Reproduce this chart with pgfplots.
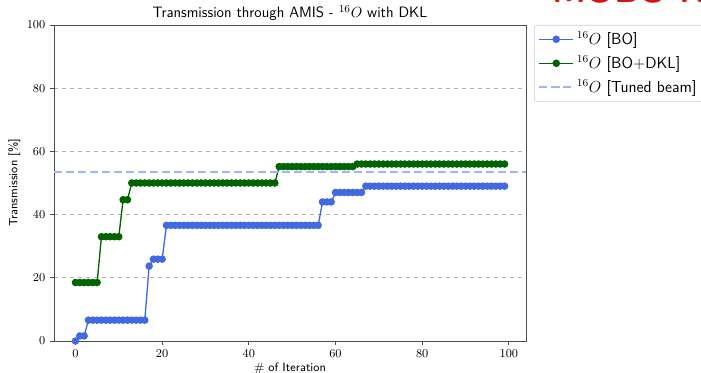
\documentclass[border=0pt]{standalone}
\usepackage{pgfplots}
\pgfplotsset{compat=1.18}
\definecolor{boblue}{RGB}{65,105,225}
\definecolor{bogreen}{RGB}{0,100,0}
\definecolor{tuned}{RGB}{160,180,245}
\definecolor{redtitle}{RGB}{210,20,20}
\begin{document}
\begin{tikzpicture}
\begin{axis}[
  name=ax,
  scale only axis,
  width=354pt, height=237pt,
  xmin=-4.95, xmax=103.95,
  ymin=0, ymax=100,
  xtick={0,20,40,60,80,100},
  ytick={0,20,40,60,80,100},
  tick align=outside,
  major tick length=3pt,
  xtick pos=bottom, ytick pos=left,
  every tick/.style={black!70, line width=0.6pt},
  axis line style={black!70, line width=0.7pt},
  ymajorgrids,
  grid style={dashed, black!30, line width=0.6pt},
  tick label style={font=\fontsize{9.5}{11}\selectfont},
  title={\sffamily Transmission through AMIS - $^{16}O$ with DKL},
  title style={font=\fontsize{11.3}{13}\selectfont, yshift=-6.5pt},
  xlabel={\sffamily \# of Iteration},
  ylabel={\sffamily Transmission [\%]},
  label style={font=\fontsize{9}{11}\selectfont},
  xlabel style={yshift=3pt},
  ylabel style={yshift=-2pt},
  legend style={at={(1.017,1)}, anchor=north west, draw=black!20, rounded corners=2pt,
    font=\fontsize{12}{13}\selectfont\sffamily, cells={anchor=west}, row sep=3pt,
    inner xsep=3pt, inner ysep=3pt},
  legend cell align=left,
  legend image code/.code={\draw[mark repeat=2,mark phase=2,#1] plot coordinates {(0cm,0cm) (0.45cm,0cm) (0.9cm,0cm)};},
  clip=false,
]
\addplot[boblue, line width=1pt, mark=*, mark size=2.3pt, mark options={solid}] coordinates {
(0,0)(1,1.6)(2,1.6)(3,6.6)(4,6.6)(5,6.6)(6,6.6)(7,6.6)(8,6.6)(9,6.6)(10,6.6)(11,6.6)(12,6.6)(13,6.6)(14,6.6)(15,6.6)(16,6.6)
(17,23.7)(18,25.9)(19,25.9)(20,25.9)
(21,36.6)(22,36.6)(23,36.6)(24,36.6)(25,36.6)(26,36.6)(27,36.6)(28,36.6)(29,36.6)(30,36.6)(31,36.6)(32,36.6)(33,36.6)(34,36.6)(35,36.6)(36,36.6)(37,36.6)(38,36.6)(39,36.6)(40,36.6)(41,36.6)(42,36.6)(43,36.6)(44,36.6)(45,36.6)(46,36.6)(47,36.6)(48,36.6)(49,36.6)(50,36.6)(51,36.6)(52,36.6)(53,36.6)(54,36.6)(55,36.6)(56,36.6)
(57,44)(58,44)(59,44)
(60,47)(61,47)(62,47)(63,47)(64,47)(65,47)(66,47)
(67,49)(68,49)(69,49)(70,49)(71,49)(72,49)(73,49)(74,49)(75,49)(76,49)(77,49)(78,49)(79,49)(80,49)(81,49)(82,49)(83,49)(84,49)(85,49)(86,49)(87,49)(88,49)(89,49)(90,49)(91,49)(92,49)(93,49)(94,49)(95,49)(96,49)(97,49)(98,49)(99,49)
};
\addlegendentry{$^{16}O$ [BO]}
\addplot[bogreen, line width=1pt, mark=*, mark size=2.3pt, mark options={solid}] coordinates {
(0,18.5)(1,18.5)(2,18.5)(3,18.5)(4,18.5)(5,18.5)
(6,33)(7,33)(8,33)(9,33)(10,33)
(11,44.7)(12,44.7)
(13,50)(14,50)(15,50)(16,50)(17,50)(18,50)(19,50)(20,50)(21,50)(22,50)(23,50)(24,50)(25,50)(26,50)(27,50)(28,50)(29,50)(30,50)(31,50)(32,50)(33,50)(34,50)(35,50)(36,50)(37,50)(38,50)(39,50)(40,50)(41,50)(42,50)(43,50)(44,50)(45,50)(46,50)
(47,55.2)(48,55.2)(49,55.2)(50,55.2)(51,55.2)(52,55.2)(53,55.2)(54,55.2)(55,55.2)(56,55.2)(57,55.2)(58,55.2)(59,55.2)(60,55.2)(61,55.2)(62,55.2)(63,55.2)(64,55.2)
(65,56)(66,56)(67,56)(68,56)(69,56)(70,56)(71,56)(72,56)(73,56)(74,56)(75,56)(76,56)(77,56)(78,56)(79,56)(80,56)(81,56)(82,56)(83,56)(84,56)(85,56)(86,56)(87,56)(88,56)(89,56)(90,56)(91,56)(92,56)(93,56)(94,56)(95,56)(96,56)(97,56)(98,56)(99,56)
};
\addlegendentry{$^{16}O$ [BO+DKL]}
\addplot[tuned, line width=1.4pt, dash pattern=on 6pt off 3pt] coordinates {(-4.95,53.4)(103.95,53.4)};
\addlegendentry{$^{16}O$ [Tuned beam]}
\end{axis}
\node[anchor=base west, text=redtitle, font=\fontsize{26}{30}\selectfont\sffamily\bfseries, inner sep=0pt]
  at ([xshift=374pt, yshift=16.5pt]ax.north west) {MOBO KL};
\pgfresetboundingbox
\path[use as bounding box] ([xshift=-40.5pt, yshift=-24pt]ax.south west) rectangle ([xshift=131.25pt, yshift=18.75pt]ax.north east);
\end{tikzpicture}
\end{document}
